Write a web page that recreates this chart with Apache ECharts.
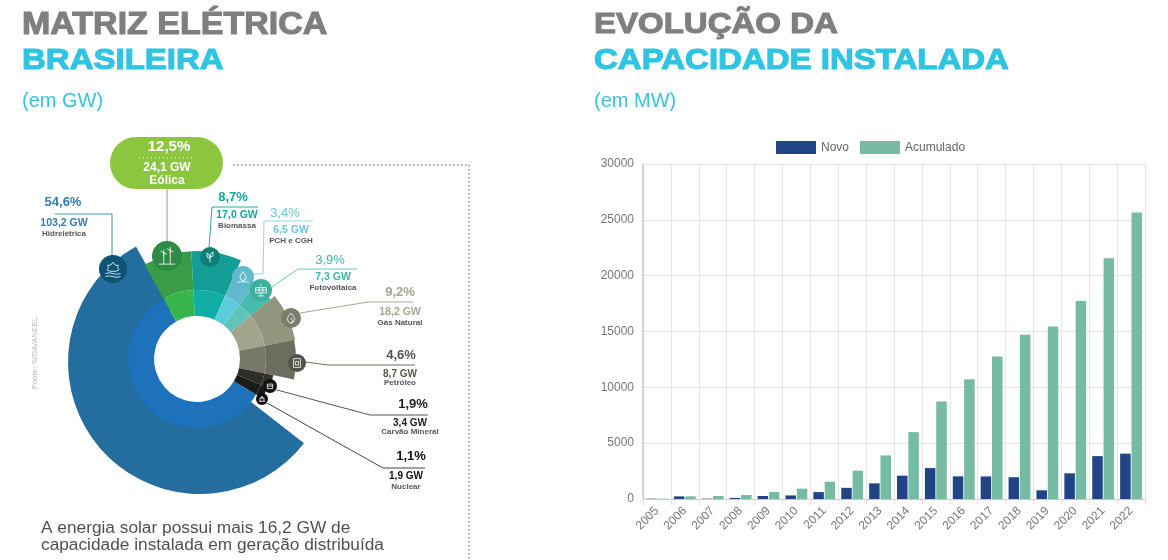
<!DOCTYPE html>
<html>
<head>
<meta charset="utf-8">
<title>Matriz elétrica</title>
<script src="https://cdn.jsdelivr.net/npm/echarts@6/dist/echarts.min.js"></script>
<style>
html, body { margin: 0; padding: 0; background: #fff; }
#chartMain { width: 1168px; height: 560px; }
</style>
</head>
<body>
<div id="chartMain"></div>
<script>
// dados do grafico de barras (MW)
var years = ['2005','2006','2007','2008','2009','2010','2011','2012','2013','2014','2015','2016','2017','2018','2019','2020','2021','2022'];
var novo = [27,237,30,100,270,320,620,1000,1400,2090,2770,2030,2020,1950,780,2300,3840,4060];
var acumulado = [27,240,270,360,620,925,1550,2535,3900,5990,8740,10735,12760,14700,15450,17740,21560,25650];

// fontes da matriz, na ordem horaria do desenho
var sources = ['Hidrelétrica','Eólica','Biomassa','PCH e CGH','Fotovoltaica','Gás Natural','Petróleo','Carvão Mineral','Nuclear'];
var percents = ['54,6%','12,5%','8,7%','3,4%','3,9%','9,2%','4,6%','1,9%','1,1%'];
var capacities = ['103,2 GW','24,1 GW','17,0 GW','6,5 GW','7,3 GW','18,2 GW','8,7 GW','3,4 GW','1,9 GW'];
// abertura de cada fatia como foi desenhada (graus): o infografico original nao segue os percentuais
var sliceDegrees = [210,26,27,14,13,28,23,10,9];
// a borda externa da hidreletrica nao e radial, entao o anel de fora abre um pouco menos
var hydroOuterDegrees = 203;
// raio externo desenhado de cada fatia
var outerRadius = [132,108,108,96,95,100,99,78,76];
var outerColors = ['#236e9e','#3b9c47','#129e96','#62b9ce','#45bcab','#93957f','#6c6d5e','#31322b','#191a18'];
var innerColors = ['#1e71bb','#38b54a','#0fafa5','#5ccbdc','#5fc4b8','#a2a58c','#777868','#2d2e28','#1a1c1a'];

var FONT = '"Liberation Sans", Arial, sans-serif';
var CENTER = [197, 359];
var HYDRO_CENTER = [200, 362]; // o arco grande esta um pouco fora do centro
var START = -31;
var HYDRO_OUTER_START = -38;

// uma pizza por fatia; o resto fica transparente para manter os angulos
function ringData(colors, onlyIndex) {
	var arr = [];
	for (var i = 0; i < sliceDegrees.length; i++) {
		var show = onlyIndex === undefined || onlyIndex === i;
		arr.push({
			name: sources[i],
			value: sliceDegrees[i],
			itemStyle: { color: show ? colors[i] : 'transparent' }
		});
	}
	return arr;
}

function pieSeries(center, radius, data, start) {
	return {
		type: 'pie',
		silent: true,
		animation: false,
		center: center,
		radius: radius,
		startAngle: start,
		clockwise: true,
		label: { show: false },
		labelLine: { show: false },
		data: data
	};
}

var series = [
	{ name: 'Novo', type: 'bar', data: novo, barWidth: 10.5, barGap: '8%', animation: false, itemStyle: { color: '#204486' } },
	{ name: 'Acumulado', type: 'bar', data: acumulado, barWidth: 10.5, animation: false, itemStyle: { color: '#76bba2' } }
];
series.push(pieSeries(HYDRO_CENTER, [60, outerRadius[0]], [
	{ name: sources[0], value: hydroOuterDegrees, itemStyle: { color: outerColors[0] } },
	{ name: 'resto', value: 360 - hydroOuterDegrees, itemStyle: { color: 'transparent' } }
], HYDRO_OUTER_START));
for (var s = 1; s < sources.length; s++) {
	series.push(pieSeries(CENTER, [69, outerRadius[s]], ringData(outerColors, s), START));
}
series.push(pieSeries(CENTER, [43, 69], ringData(innerColors), START));

/*** textos e linhas do infografico ***/
var graphics = [];

function addText(text, x, y, size, color, weight, align) {
	graphics.push({
		type: 'text',
		x: x,
		y: y,
		silent: true,
		style: {
			text: text,
			fontFamily: FONT,
			fontSize: size,
			fontWeight: weight || 'normal',
			fill: color,
			align: align || 'center',
			verticalAlign: 'middle'
		}
	});
}

// titulo com contorno para ficar pesado como o original
function addTitle(text, x, y, color, size) {
	graphics.push({
		type: 'text',
		x: x,
		y: y,
		scaleY: 0.92,
		silent: true,
		style: {
			text: text,
			fontFamily: FONT,
			fontSize: size || 33,
			fontWeight: 'bold',
			fill: color,
			stroke: color,
			lineWidth: 1.2,
			align: 'left',
			verticalAlign: 'middle'
		}
	});
}

function addLine(points, color, dash) {
	graphics.push({
		type: 'polyline',
		silent: true,
		shape: { points: points },
		style: { stroke: color, lineWidth: dash ? 1.5 : 1, fill: 'none', lineDash: dash || null }
	});
}

// icone: circulo mais tracos brancos numa grade de 24x24
function addIcon(strokes, x, y, r, color) {
	graphics.push({ type: 'circle', silent: true, shape: { cx: x, cy: y, r: r }, style: { fill: color } });
	var k = r * 1.3 / 24;
	for (var i = 0; i < strokes.length; i++) {
		var pts = [];
		for (var j = 0; j < strokes[i].length; j++) {
			pts.push([x + (strokes[i][j][0] - 12) * k, y + (strokes[i][j][1] - 12) * k]);
		}
		graphics.push({
			type: 'polyline',
			silent: true,
			shape: { points: pts },
			style: { stroke: '#fff', lineWidth: 0.8, fill: 'none' }
		});
	}
}

addTitle('MATRIZ ELÉTRICA', 22, 25, '#7f7f7f', 34);
addTitle('BRASILEIRA', 22, 61, '#2ec4e2');
addText('(em GW)', 22, 101, 20, '#35c4e2', 'normal', 'left');
addTitle('EVOLUÇÃO DA', 594, 25, '#7f7f7f');
addTitle('CAPACIDADE INSTALADA', 594, 61, '#2ec4e2');
addText('(em MW)', 594, 101, 20, '#35c4e2', 'normal', 'left');

// moldura pontilhada
addLine([[233, 165], [469, 165], [469, 560]], '#8a8a8a', [1.5, 2.5]);

// linhas de chamada
addLine([[55, 214], [112, 214], [112, 257]], '#4a8fb3');
addLine([[167, 188], [167, 242]], '#6fb36f');
addLine([[258, 207], [212, 207], [209, 247]], '#2aa79c');
addLine([[313, 221], [264, 221], [263, 274], [253, 274]], '#8fd6e4');
addLine([[357, 269], [298, 269], [272, 287]], '#6cc7b6');
addLine([[413, 302], [368, 302], [300, 313]], '#a6a68f');
addLine([[415, 365], [328, 365], [305, 362]], '#6c6d5e');
addLine([[428, 415], [370, 415], [277, 390]], '#555555');
addLine([[425, 468], [383, 468], [267, 403]], '#444444');

// selo da eolica
graphics.push({
	type: 'rect',
	silent: true,
	shape: { x: 110, y: 137, width: 113, height: 52, r: 26 },
	style: { fill: '#8cc63f' }
});
addLine([[139, 158], [193, 158]], '#d6eab5', [1, 3]);

// icones
addIcon([[[12,3],[15,7],[19,7],[18,11],[20,13],[16,15],[8,15],[4,13],[6,11],[5,7],[9,7],[12,3]], [[2,18],[7,17],[12,18],[17,19],[22,18]], [[2,22],[7,21],[12,22],[17,23],[22,22]]], 113, 269, 14, '#0c5476');
addIcon([[[8,8],[8,22]], [[16,5],[16,22]], [[2,22],[22,22]], [[4,6],[12,10]], [[8,4],[8,12]], [[12,3],[20,7]], [[16,1],[16,9]]], 167, 256, 15, '#2e8b45');
addIcon([[[12,22],[12,10]], [[12,14],[7,13],[6,5],[10,7],[12,14]], [[12,12],[17,11],[18,3],[14,5],[12,12]]], 210, 257, 10, '#0f7f78');
addIcon([[[12,3],[8,9],[7,13],[9,17],[12,18],[15,17],[17,13],[16,9],[12,3]], [[2,21],[7,20],[17,20],[22,21]]], 243, 277, 11, '#63b9cc');
addIcon([[[3,8],[21,8],[21,17],[3,17],[3,8]], [[9,8],[9,17]], [[15,8],[15,17]], [[3,12],[21,12]], [[12,17],[12,22]], [[7,22],[17,22]], [[12,2],[12,5]]], 261, 290, 11, '#3fae9f');
addIcon([[[12,3],[17,9],[19,15],[16,20],[12,22],[8,20],[5,15],[7,9],[12,3]], [[12,12],[15,17],[14,20],[12,21]]], 291, 318, 10, '#7c7d6c');
addIcon([[[5,3],[19,3],[19,21],[5,21],[5,3]], [[9,9],[15,9],[15,16],[9,16],[9,9]]], 297, 363, 9, '#53544b');
addIcon([[[5,7],[19,7],[19,19],[5,19],[5,7]], [[5,12],[19,12]]], 270, 386, 7, '#121212');
addIcon([[[3,19],[21,19]], [[6,19],[6,9],[18,9],[18,19]], [[10,9],[10,5],[14,5],[14,9]]], 262, 399, 6, '#101010');

// rotulos de cada fonte
addText(percents[0], 63, 202, 13, '#2f7fb0', 'bold');
addText(capacities[0], 64, 223, 10.5, '#2f7fb0', 'bold');
addText(sources[0], 64, 234, 8, '#555555', 'bold');

addText(percents[1], 169, 147, 15, '#ffffff', 'bold');
addText(capacities[1], 167, 168, 12, '#ffffff', 'bold');
addText(sources[1], 167, 181, 12, '#ffffff', 'bold');

addText(percents[2], 233, 197, 13, '#14a79c', 'bold');
addText(capacities[2], 237, 215, 10.5, '#14a79c', 'bold');
addText(sources[2], 237, 226, 8, '#555555', 'bold');

addText(percents[3], 285, 213, 13, '#6cc7d8');
addText(capacities[3], 291, 230, 10.5, '#6cc7d8', 'bold');
addText(sources[3], 291, 241, 8, '#555555', 'bold');

addText(percents[4], 330, 260, 13, '#3fb4a0');
addText(capacities[4], 333, 277, 10.5, '#3fb4a0', 'bold');
addText(sources[4], 333, 288, 8, '#555555', 'bold');

addText(percents[5], 400, 292, 13, '#a6a68f', 'bold');
addText(capacities[5], 400, 312, 10.5, '#a6a68f', 'bold');
addText(sources[5], 400, 323, 8, '#555555', 'bold');

addText(percents[6], 401, 355, 13, '#56574d', 'bold');
addText(capacities[6], 400, 374, 10, '#56574d', 'bold');
addText(sources[6], 400, 383, 8, '#555555', 'bold');

addText(percents[7], 413, 404, 13, '#222222', 'bold');
addText(capacities[7], 410, 423, 10, '#222222', 'bold');
addText(sources[7], 410, 432, 8, '#555555', 'bold');

addText(percents[8], 411, 456, 13, '#111111', 'bold');
addText(capacities[8], 406, 476, 10, '#111111', 'bold');
addText(sources[8], 406, 487, 8, '#555555', 'bold');

// fonte na vertical
graphics.push({
	type: 'text',
	x: 35,
	y: 353,
	rotation: Math.PI / 2,
	silent: true,
	style: { text: 'Fonte: SIGA/ANEEL', fontFamily: FONT, fontSize: 8, fill: '#bbbbbb', align: 'center', verticalAlign: 'middle' }
});

addText('A energia solar possui mais 16,2 GW de', 41, 528, 17.3, '#505050', 'normal', 'left');
addText('capacidade instalada em geração distribuída', 41, 545, 17.3, '#505050', 'normal', 'left');

// tudo por cima das pizzas
for (var g = 0; g < graphics.length; g++) {
	graphics[g].z = 10;
}

var myChart = echarts.init(document.getElementById('chartMain'));
var option = {
	backgroundColor: '#fff',
	textStyle: { fontFamily: FONT },
	animation: false,
	legend: {
		data: ['Novo', 'Acumulado'],
		left: 771,
		top: 136,
		itemWidth: 40,
		itemHeight: 13,
		itemGap: 11,
		icon: 'rect',
		selectedMode: false,
		textStyle: { color: '#666', fontSize: 12, fontFamily: FONT }
	},
	grid: { left: 643, right: 23, top: 164, bottom: 61 },
	xAxis: {
		type: 'category',
		data: years,
		axisLine: { lineStyle: { color: '#c8c8c8' } },
		axisTick: { show: true, length: 6, lineStyle: { color: '#e2e2e2' } },
		axisLabel: { interval: 0, rotate: 45, color: '#777', fontSize: 12, margin: 10 },
		splitLine: { show: true, lineStyle: { color: '#e6e6e6' } }
	},
	yAxis: {
		type: 'value',
		min: 0,
		max: 30000,
		interval: 5000,
		axisLine: { show: true, lineStyle: { color: '#c8c8c8', width: 1.5 } },
		axisTick: { show: false },
		axisLabel: {
			color: '#777',
			fontSize: 12,
			margin: 9,
			formatter: function(v) { return String(v); }
		},
		splitLine: { show: true, lineStyle: { color: '#e6e6e6' } }
	},
	series: series,
	graphic: { elements: graphics }
};
myChart.setOption(option);
</script>
</body>
</html>
